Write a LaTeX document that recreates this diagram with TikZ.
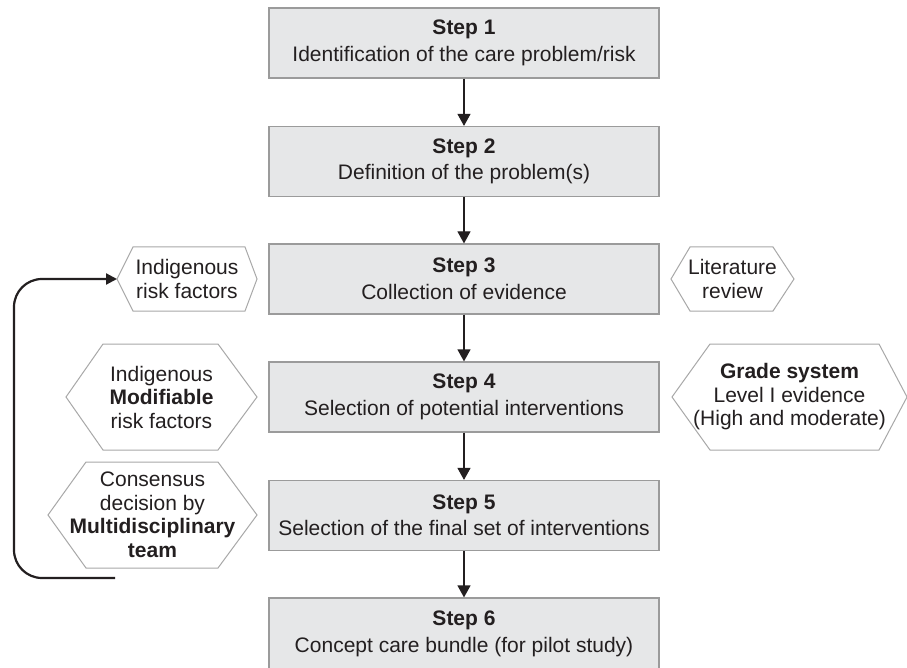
\documentclass[tikz,border=0pt]{standalone}
\usepackage{fontspec}
\setmainfont{Liberation Sans}
\usetikzlibrary{arrows.meta}
\definecolor{boxfill}{HTML}{E6E7E8}
\definecolor{boxline}{HTML}{9B9B9B}
\definecolor{hexline}{HTML}{A8A8A8}
\definecolor{ink}{HTML}{231F20}
\begin{document}
\begin{tikzpicture}[x=1pt,y=-1pt,
  stepbox/.style={draw=boxline, fill=boxfill, line width=1.2pt, minimum width=390pt,
    minimum height=70pt, inner sep=0pt, align=center,
    font=\fontsize{21}{26.5}\selectfont, text=ink},
  hexshape/.style={draw=hexline, fill=white, line width=1pt, line join=miter},
  hextext/.style={align=center, font=\fontsize{21}{23.5}\selectfont, text=ink, inner sep=0pt},
  flow/.style={draw=ink, line width=1.2pt, -{Triangle[length=12pt,width=13pt]}},
  feedback/.style={draw=ink, line width=2.2pt, rounded corners=28pt,
    -{Triangle[length=11pt,width=11pt]}}]
\useasboundingbox (0,0) rectangle (907,668);
\clip (0,0) rectangle (907,668);
\fill[white] (0,0) rectangle (907,668);

% steps
\node[stepbox] (s1) at (464,43) {\textbf{Step 1}\\Identification of the care problem/risk};
\node[stepbox] (s2) at (464,161.5) {\textbf{Step 2}\\Definition of the problem(s)};
\node[stepbox] (s3) at (464,279) {\textbf{Step 3}\\Collection of evidence};
\node[stepbox] (s4) at (464,397) {\textbf{Step 4}\\Selection of potential interventions};
\node[stepbox] (s5) at (464,515.5) {\textbf{Step 5}\\Selection of the final set of interventions};
\node[stepbox, minimum height=72pt] (s6) at (464,634) {\textbf{Step 6}\\Concept care bundle (for pilot study)};

\draw[flow] (s1.south) -- (s2.north);
\draw[flow] (s2.south) -- (s3.north);
\draw[flow] (s3.south) -- (s4.north);
\draw[flow] (s4.south) -- (s5.north);
\draw[flow] (s5.south) -- (s6.north);

% hexagons left
\draw[hexshape] (117,279) -- (133,247) -- (245,247) -- (257,279) -- (245,311) -- (133,311) -- cycle;
\node[hextext] (h1) at (187,279) {Indigenous\\risk factors};
\coordinate (h1w) at (117,279);

\draw[hexshape] (66,397) -- (103,344) -- (218,344) -- (257,397) -- (218,450) -- (103,450) -- cycle;
\node[hextext] (h2) at (161.5,397) {Indigenous\\\textbf{Modifiable}\\risk factors};

\draw[hexshape] (48,515) -- (86,462) -- (218,462) -- (257,515) -- (218,568) -- (86,568) -- cycle;
\node[hextext] (h3) at (152.5,515) {Consensus\\decision by\\\textbf{Multidisciplinary}\\\textbf{team}};

% hexagons right
\draw[hexshape] (671,279) -- (690,247) -- (773,247) -- (794,279) -- (773,311) -- (690,311) -- cycle;
\node[hextext] (h4) at (732.5,279) {Literature\\review};

\draw[hexshape] (672,397) -- (710,344) -- (879,344) -- (907,397) -- (879,450) -- (710,450) -- cycle;
\node[hextext] (h5) at (789.5,397) {\textbf{Grade system}\\Level I evidence\\(High and moderate)};

% feedback loop
\coordinate (fb) at (115,578);
\draw[feedback] (fb) -- (14,578) |- (h1w);
\end{tikzpicture}
\end{document}
